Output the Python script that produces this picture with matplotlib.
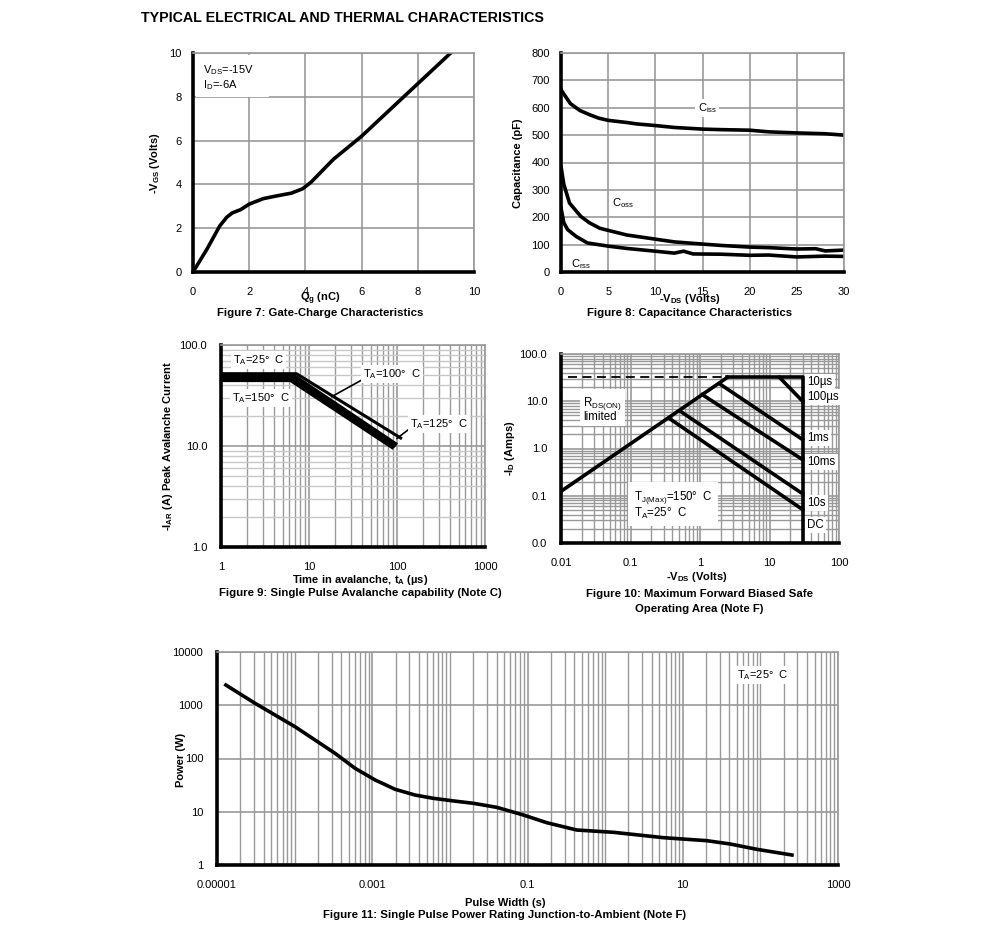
import numpy as np
import matplotlib.pyplot as plt
from matplotlib.ticker import LogLocator, NullFormatter

plt.rcParams['font.family'] = ['Liberation Sans', 'DejaVu Sans']
plt.rcParams['mathtext.default'] = 'regular'

W, H = 991, 940

# Figure 7: gate charge
qg = [0, 0.5, 0.95, 1.2, 1.4, 1.7, 2.0, 2.5, 3.0, 3.5, 3.9, 4.2, 5.0, 6.0, 7.0, 8.0, 9.17]
vgs = [0, 1.05, 2.1, 2.5, 2.7, 2.85, 3.1, 3.35, 3.48, 3.6, 3.8, 4.1, 5.15, 6.2, 7.4, 8.6, 10.0]

# Figure 8: capacitance
vds_ciss = [0, 0.3, 1, 2, 3, 4, 5, 7, 8, 10, 12, 15, 17, 20, 22, 25, 28, 30]
ciss = [666, 650, 615, 590, 575, 562, 554, 546, 541, 535, 528, 522, 520, 518, 512, 508, 505, 500]
vds_coss = [0, 0.3, 0.9, 2.1, 3, 4.1, 5, 7, 10, 12, 15, 17, 20, 22, 25, 27, 28, 30]
coss = [385, 320, 252, 203, 180, 160, 152, 135, 120, 110, 102, 97, 91, 89, 84, 85, 77, 80]
vds_crss = [0, 0.3, 0.7, 1.6, 2.8, 5.1, 7, 10, 12, 13, 14, 17, 20, 22, 25, 28, 30]
crss = [234, 180, 155, 130, 106, 94, 86, 76, 69, 76, 66, 65, 61, 62, 55, 58, 57]

# Figure 9: avalanche
ta_1 = [1, 7.2, 110]
iar_1 = [52, 52, 12]
ta_2 = [1, 6.8, 95]
iar_2 = [49, 49, 10.5]
ta_3 = [1, 6.5, 92]
iar_3 = [47, 47, 10.2]
ta_4 = [1, 6.2, 88]
iar_4 = [45, 45, 9.8]

# Figure 10: SOA
rds_v = [0.01, 2.48]
rds_i = [0.124, 32]
lim_v = [2.48, 30, 30]
lim_i = [32, 32, 0.01]
soa_lines = {
    '100us': ([13.9, 30], [32, 10]),
    '1ms': ([2.0, 30], [22.4, 1.54]),
    '10ms': ([1.08, 30], [13.8, 0.58]),
    '10s': ([0.525, 30], [6.1, 0.11]),
    'DC': ([0.356, 30], [4.4, 0.051]),
}
soa_labels = ['10µs', '100µs', '1ms', '10ms', '10s', 'DC']
soa_label_y = [25.5, 12.3, 1.67, 0.52, 0.07, 0.024]

# Figure 11: single pulse power
pw = [1.3e-5, 3.09e-5, 1.01e-4, 3.32e-4, 6.0e-4, 1.09e-3, 1.97e-3, 3.56e-3,
      6.08e-3, 0.011, 0.0201, 0.0402, 0.0885, 0.177, 0.431, 1.28, 5.64, 20.5,
      40.8, 90.2, 255]
pwr = [2400, 1088, 396, 125, 65.5, 39.5, 26.4, 20.6, 17.9, 16.0, 14.4, 12.1,
       8.69, 6.23, 4.54, 4.11, 3.26, 2.86, 2.48, 1.97, 1.54]

GRID = '#999999'


def rect(l, t, r, b):
    return [l / W, 1 - b / H, (r - l) / W, (b - t) / H]


def ftext(x, y, s, **kw):
    fig.text(x / W, 1 - y / H, s, **kw)


def style(ax, minor_x=False, minor_y=False, ypad=8):
    ax.set_axisbelow(True)
    ax.grid(True, which='major', color=GRID, lw=1.2)
    if minor_x:
        ax.grid(True, which='minor', axis='x', color=GRID, lw=1.0)
    if minor_y:
        ax.grid(True, which='minor', axis='y', color='#c8c8c8', lw=1.0)
    for s in ['left', 'bottom']:
        ax.spines[s].set_linewidth(2.6)
        ax.spines[s].set_color('black')
    for s in ['top', 'right']:
        ax.spines[s].set_linewidth(1.2)
        ax.spines[s].set_color(GRID)
    ax.tick_params(which='both', length=0, labelsize=8)
    ax.tick_params(axis='x', pad=11)
    ax.tick_params(axis='y', pad=ypad)


box = dict(fc='white', ec='none', pad=1.5)
fig = plt.figure(figsize=(W / 100, H / 100), dpi=100)

ftext(141, 18, 'TYPICAL ELECTRICAL AND THERMAL CHARACTERISTICS',
      fontsize=10.3, fontweight='bold', va='center')

# ---- Figure 7
ax7 = fig.add_axes(rect(193, 53, 474, 272))
ax7.plot(qg, vgs, color='black', lw=2.6)
ax7.set_xlim(0, 10)
ax7.set_ylim(0, 10)
ax7.set_xticks(range(0, 11, 2))
ax7.set_yticks(range(0, 11, 2))
style(ax7)
ax7.add_patch(plt.Rectangle((0.1, 8.0), 2.6, 1.9, fc='white', ec='none', zorder=1.5))
ax7.text(0.35, 9.2, 'V$_{DS}$=-15V', fontsize=8, va='center')
ax7.text(0.35, 8.55, 'I$_D$=-6A', fontsize=8, va='center')
ftext(320, 299, 'Q$_g$ (nC)', fontsize=8, fontweight='bold', ha='center', va='center')
ftext(320, 313, 'Figure 7: Gate-Charge Characteristics', fontsize=8.2,
      fontweight='bold', ha='center', va='center')
ftext(155, 163, '-V$_{GS}$ (Volts)', fontsize=8, fontweight='bold', ha='center',
      va='center', rotation=90)

# ---- Figure 8
ax8 = fig.add_axes(rect(561, 53, 844, 272))
ax8.plot(vds_ciss, ciss, color='black', lw=2.6)
ax8.plot(vds_coss, coss, color='black', lw=2.6)
ax8.plot(vds_crss, crss, color='black', lw=2.6)
ax8.set_xlim(0, 30)
ax8.set_ylim(0, 800)
ax8.set_xticks(range(0, 31, 5))
ax8.set_yticks(range(0, 801, 100))
style(ax8)
ax8.text(15.5, 598, 'C$_{iss}$', fontsize=8, ha='center', va='center', bbox=box)
ax8.text(6.6, 250, 'C$_{oss}$', fontsize=8, ha='center', va='center')
ax8.text(2.1, 28, 'C$_{rss}$', fontsize=8, ha='center', va='center')
ftext(690, 299, '-V$_{DS}$ (Volts)', fontsize=8, fontweight='bold', ha='center', va='center')
ftext(690, 313, 'Figure 8: Capacitance Characteristics', fontsize=8.2,
      fontweight='bold', ha='center', va='center')
ftext(518, 163, 'Capacitance (pF)', fontsize=8, fontweight='bold', ha='center',
      va='center', rotation=90)

# ---- Figure 9
ax9 = fig.add_axes(rect(221, 345, 485, 547))
ax9.plot(ta_1, iar_1, color='black', lw=2.2)
ax9.plot(ta_2, iar_2, color='black', lw=3.0)
ax9.plot(ta_3, iar_3, color='black', lw=3.0)
ax9.plot(ta_4, iar_4, color='black', lw=3.0)
ax9.set_xscale('log')
ax9.set_yscale('log')
ax9.set_xlim(1, 1000)
ax9.set_ylim(1, 100)
ax9.set_xticks([1, 10, 100, 1000], ['1', '10', '100', '1000'])
ax9.set_yticks([1, 10, 100], ['1.0', '10.0', '100.0'])
ax9.yaxis.set_minor_formatter(NullFormatter())
ax9.xaxis.set_minor_formatter(NullFormatter())
style(ax9, minor_x=True, minor_y=True, ypad=10)
ax9.text(1.36, 71, 'T$_A$=25°  C', fontsize=8, va='center', bbox=box)
ax9.text(1.34, 30, 'T$_A$=150°  C', fontsize=8, va='center', bbox=box)
ax9.text(41, 51.6, 'T$_A$=100°  C', fontsize=8, va='center', bbox=box)
ax9.plot([18.1, 39.7], [30.8, 45], color='black', lw=1.2)
ax9.text(140, 16.5, 'T$_A$=125°  C', fontsize=8, va='center', bbox=box)
ax9.plot([100, 133], [11.9, 14.4], color='black', lw=1.2)
ftext(360, 580, 'Time in avalanche, t$_A$ (µs)', fontsize=8, fontweight='bold',
      ha='center', va='center')
ftext(360, 593, 'Figure 9: Single Pulse Avalanche capability (Note C)', fontsize=8.2,
      fontweight='bold', ha='center', va='center')
ftext(168, 446, '-I$_{AR}$ (A) Peak Avalanche Current', fontsize=8, fontweight='bold',
      ha='center', va='center', rotation=90)

# ---- Figure 10
ax10 = fig.add_axes(rect(561, 354, 839, 543))
ax10.plot(rds_v, rds_i, color='black', lw=2.6)
ax10.plot([0.0125, 2.48], [32, 32], color='black', lw=1.3, ls=(0, (5, 3)))
ax10.plot(lim_v, lim_i, color='black', lw=2.6)
for name, (v, i) in soa_lines.items():
    ax10.plot(v, i, color='black', lw=2.6)
ax10.set_xscale('log')
ax10.set_yscale('log')
ax10.set_xlim(0.01, 100)
ax10.set_ylim(0.01, 100)
ax10.set_xticks([0.01, 0.1, 1, 10, 100], ['0.01', '0.1', '1', '10', '100'])
ax10.set_yticks([0.01, 0.1, 1, 10, 100], ['0.0', '0.1', '1.0', '10.0', '100.0'])
ax10.xaxis.set_minor_formatter(NullFormatter())
ax10.yaxis.set_minor_formatter(NullFormatter())
style(ax10, minor_x=True, minor_y=True, ypad=10)
ax10.grid(True, which='minor', axis='y', color=GRID, lw=1.0)
for lab, yv in zip(soa_labels, soa_label_y):
    ax10.text(35, yv, lab, fontsize=8.3, va='center', bbox=box)
ax10.text(0.0207, 6.86, 'R$_{DS(ON)}$\nlimited', fontsize=8.3, va='center',
          linespacing=0.85, bbox=dict(fc='white', ec='none', pad=2.5))
ax10.text(0.112, 0.064, 'T$_{J(Max)}$=150°  C\nT$_A$=25°  C', fontsize=8.3,
          va='center', linespacing=0.95, bbox=dict(fc='white', ec='none', pad=4))
ftext(697, 577, '-V$_{DS}$ (Volts)', fontsize=8, fontweight='bold', ha='center', va='center')
ftext(699, 594, 'Figure 10: Maximum Forward Biased Safe', fontsize=8.2,
      fontweight='bold', ha='center', va='center')
ftext(699, 609, 'Operating Area (Note F)', fontsize=8.2,
      fontweight='bold', ha='center', va='center')
ftext(510, 448, '-I$_D$ (Amps)', fontsize=8, fontweight='bold', ha='center',
      va='center', rotation=90)

# ---- Figure 11
ax11 = fig.add_axes(rect(217, 652, 838, 865))
ax11.plot(pw, pwr, color='black', lw=2.6)
ax11.set_xscale('log')
ax11.set_yscale('log')
ax11.set_xlim(1e-5, 1000)
ax11.set_ylim(1, 10000)
ax11.set_xticks([1e-5, 1e-3, 0.1, 10, 1000], ['0.00001', '0.001', '0.1', '10', '1000'])
ax11.xaxis.set_minor_locator(LogLocator(base=10, subs=np.arange(1, 10) * 1.0, numticks=50))
ax11.xaxis.set_minor_formatter(NullFormatter())
ax11.set_yticks([1, 10, 100, 1000, 10000], ['1', '10', '100', '1000', '10000'])
ax11.yaxis.set_minor_locator(plt.NullLocator())
style(ax11, minor_x=True, ypad=10)
ax11.text(50, 3700, 'T$_A$=25°  C', fontsize=8, va='center', bbox=box)
ftext(505, 903, 'Pulse Width (s)', fontsize=8, fontweight='bold', ha='center', va='center')
ftext(505, 915, 'Figure 11: Single Pulse Power Rating Junction-to-Ambient (Note F)',
      fontsize=8.2, fontweight='bold', ha='center', va='center')
ftext(181, 760, 'Power (W)', fontsize=8, fontweight='bold', ha='center',
      va='center', rotation=90)

fig.savefig('out.png', dpi=100)
